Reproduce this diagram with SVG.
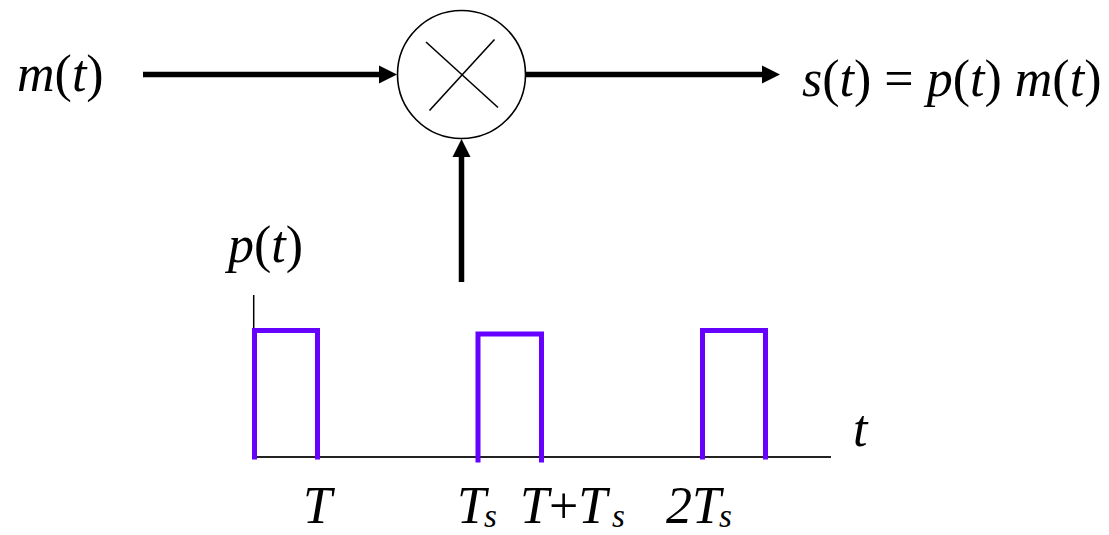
<svg xmlns="http://www.w3.org/2000/svg" width="1109" height="535" viewBox="0 0 1109 535">
<style>
text{font-family:"Liberation Serif","Times New Roman",Times,serif;font-size:52px;font-style:italic;fill:#000}
.up{font-style:normal}
.sub{font-size:33px}
.arrow{stroke:#000;stroke-width:5.5;fill:none}
.pulse{stroke:#6600FF;stroke-width:5;fill:none;stroke-linecap:square}
</style>
<defs>
<marker id="ah" markerUnits="userSpaceOnUse" markerWidth="20" markerHeight="20" refX="0" refY="9" orient="auto" overflow="visible">
<path d="M0,0 L18,9 L0,18 Z" fill="#000"/>
</marker>
</defs>
<rect width="1109" height="535" fill="#fff"/>
<g id="connectors">
<line class="arrow" x1="143" y1="74.5" x2="379" y2="74.5" marker-end="url(#ah)"/>
<line class="arrow" x1="526" y1="74.5" x2="762" y2="74.5" marker-end="url(#ah)"/>
<line class="arrow" x1="461.5" y1="282" x2="461.5" y2="157" marker-end="url(#ah)"/>
</g>
<g id="multiplier">
<circle cx="461.5" cy="74.5" r="64" fill="#fff" stroke="#000" stroke-width="1.6"/>
<line x1="426" y1="42" x2="498" y2="107.5" stroke="#000" stroke-width="1.6"/>
<line x1="494.5" y1="39.5" x2="429.5" y2="110.5" stroke="#000" stroke-width="1.6"/>
</g>
<g id="input-label"><text x="17" y="91">m<tspan class="up">(</tspan>t<tspan class="up">)</tspan></text></g>
<g id="output-label"><text x="802" y="96">s<tspan class="up">(</tspan>t<tspan class="up">) = </tspan>p<tspan class="up">(</tspan>t<tspan class="up">) </tspan>m<tspan class="up">(</tspan>t<tspan class="up">)</tspan></text></g>
<g id="pulse-train">
<text x="228" y="262">p<tspan class="up">(</tspan>t<tspan class="up">)</tspan></text>
<line x1="253.7" y1="295" x2="253.7" y2="330" stroke="#000" stroke-width="1.5"/>
<line x1="253" y1="457" x2="831" y2="457" stroke="#222" stroke-width="1.8"/>
<polyline class="pulse" points="254.5,457 254.5,330.5 317.5,330.5 317.5,457"/>
<polyline class="pulse" points="478,460 478,334 541.5,334 541.5,460"/>
<polyline class="pulse" points="702.5,457 702.5,330.5 765.5,330.5 765.5,457"/>
<text x="853" y="446">t</text>
<text x="303" y="523">T</text>
<text x="457" y="523">T</text><text class="sub" x="484" y="527">s</text>
<text x="520" y="523">T<tspan class="up">+</tspan>T</text><text class="sub" x="612" y="527">s</text>
<text x="666" y="523">2T</text><text class="sub" x="719" y="527">s</text>
</g>
</svg>
